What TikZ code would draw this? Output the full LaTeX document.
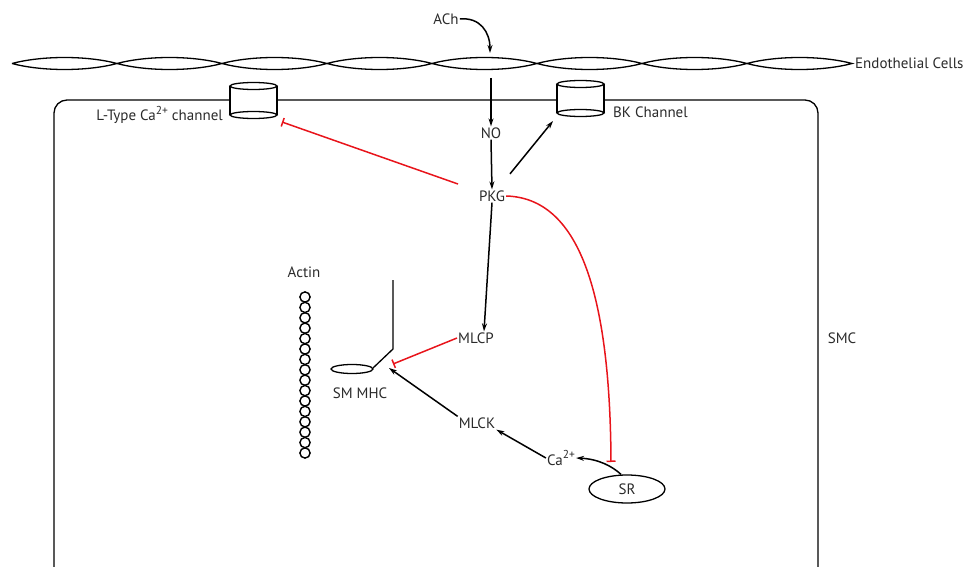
\documentclass[tikz,border=0pt]{standalone}
\usepackage{fontspec}
\setmainfont{PT Sans}
\usetikzlibrary{arrows.meta,calc,shapes.geometric}
\definecolor{txt}{HTML}{2A2A2A}
\definecolor{inh}{HTML}{E8141B}
\newcommand{\twoplus}{\raisebox{0.42em}{\fontsize{11.5}{12}\selectfont 2+}}
\begin{document}
\begin{tikzpicture}[x=1pt,y=-1pt,
  lbl/.style={font=\fontsize{15}{17}\selectfont,text=txt,inner sep=1pt},
  arr/.style={line width=1.5pt,-{Stealth[length=8pt,width=5pt]}},
  inhib/.style={line width=1.5pt,draw=inh,-{Bar[width=9pt,line width=1.5pt]}},
  shp/.style={line width=1.3pt}]
\useasboundingbox (0,0) rectangle (967,567);
% SMC cell
\draw[shp,rounded corners=13pt] (54,574) -- (54,100) -- (818,100) -- (818,574);
% endothelial cells
\foreach \i in {0,...,7}{
  \draw[shp] ({12+105*\i},63.5) .. controls ({42+105*\i},55.5) and ({87+105*\i},55.5) .. ({117+105*\i},63.5)
    .. controls ({87+105*\i},71.5) and ({42+105*\i},71.5) .. ({12+105*\i},63.5);
}
\node[lbl,anchor=west] (endo) at (854,63) {Endothelial Cells};
% channels
\fill[white] (230,86) rectangle (277,116);
\draw[shp] (253.5,86) ellipse [x radius=23.5,y radius=3.5];
\draw[shp] (253.5,115) ellipse [x radius=23.5,y radius=3.5];
\draw[shp] (230,86) -- (230,115) (277,86) -- (277,115);
\coordinate (ltyp) at (282,122);
\node[lbl,anchor=east] (ltlab) at (224,115) {L-Type Ca\twoplus{} channel};
\fill[white] (557,84) rectangle (604,114);
\draw[shp] (580.5,84) ellipse [x radius=23.5,y radius=3.5];
\draw[shp] (580.5,113) ellipse [x radius=23.5,y radius=3.5];
\draw[shp] (557,84) -- (557,113) (604,84) -- (604,113);
\coordinate (bkch) at (553,121);
\node[lbl,anchor=west] (bklab) at (612,112) {BK Channel};
% nodes
\node[lbl] (ach) at (446,19) {ACh};
\coordinate (achin) at (490,53);
\coordinate (noin) at (491,78);
\node[lbl] (no) at (491,133) {NO};
\node[lbl] (pkg) at (492,196) {PKG};
\node[lbl] (mlcp) at (476,338) {MLCP};
\node[lbl] (mlck) at (477,423) {MLCK};
\node[lbl] (ca) at (561,458) {Ca\twoplus};
\node[lbl,draw=black,line width=1.3pt,ellipse,minimum width=76pt,minimum height=28pt,inner sep=0pt] (sr) at (627,489) {SR};
\node[lbl] (mhclab) at (360,393) {SM MHC};
\node[lbl] (actinlab) at (304,272) {Actin};
\node[lbl] (smc) at (842,338) {SMC};
% actin
\foreach \k in {0,...,15}{
  \draw[line width=1.4pt] (305,{297+10.4*\k}) circle [radius=5.1];
}
% myosin
\draw[shp] (352,369) ellipse [x radius=21,y radius=4.5];
\draw[shp] (373,368) -- (393,349) -- (393,280);
\coordinate (mhcin) at (393,364);
\coordinate (mhcin2) at (389,368);
\coordinate (srbar) at (611,462);
% connectors
\draw[arr] (ach.east) .. controls (480,17) and (490,32) .. (achin);
\draw[arr] (noin) -- (no.north);
\draw[arr] (no.south) -- (pkg.north);
\draw[arr,shorten <=20pt] (pkg) -- (bkch);
\draw[inhib,shorten <=21pt] (pkg) -- (ltyp);
\draw[arr] (pkg.south) -- ([xshift=8pt]mlcp.north);
\draw[inhib] (mlcp.west) -- (mhcin);
\draw[arr] (mlck.north west) -- (mhcin2);
\draw[arr] (ca.west) -- (mlck.south east);
\draw[arr] (sr.112) .. controls (612,466) and (598,459) .. (ca.east);
\draw[inhib] (pkg.east) .. controls (578,198) and (610,290) .. (srbar);
\end{tikzpicture}
\end{document}
